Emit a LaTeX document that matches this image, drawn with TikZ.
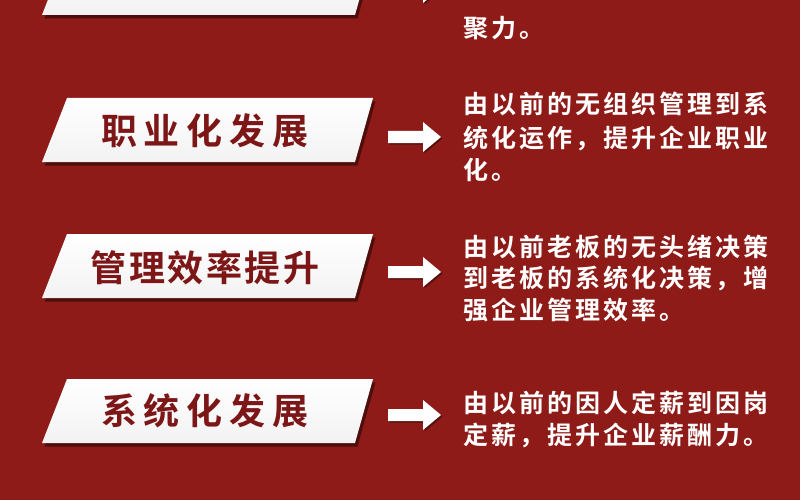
\documentclass[tikz,border=0pt]{standalone}
\usepackage{fontspec}
\newfontfamily\cjk{Noto Sans CJK SC Bold}
\usetikzlibrary{shadows}
\makeatletter
\newcommand\spreadtext[2]{\@tfor\cc:=#2\do{\makebox[#1][c]{\cc}}}
\makeatother
\definecolor{bg}{RGB}{142,27,23}
\definecolor{bannertext}{RGB}{125,22,22}
\begin{document}
\begin{tikzpicture}[x=1pt,y=-1pt]
\tikzset{
 banner/.style={top color=white, bottom color=black!5, draw=none,
   drop shadow={shadow xshift=2.5pt,shadow yshift=-3.5pt,opacity=.45,fill=black}},
 bannerlabel/.style={inner sep=0pt, text=bannertext, font=\fontsize{36}{36}\selectfont\cjk},
 desc/.style={anchor=west, inner sep=0pt, text=white, font=\fontsize{25}{25}\selectfont\cjk},
 blockarrow/.style={fill=white, draw=none,
   drop shadow={shadow xshift=1.5pt,shadow yshift=-1.5pt,opacity=.4,fill=black}},
}
\useasboundingbox (0,0) rectangle (800,500);
\fill[bg] (0,0) rectangle (800,500);
\begin{scope}
\clip (0,0) rectangle (800,500);
% banners
\path[banner] (67,-49) -- (373,-49) -- (355,15) -- (42,15) -- cycle;
\path[banner] (67,98) -- (373,98) -- (355,162) -- (42,162) -- cycle;
\path[banner] (67,234) -- (373,234) -- (355,298) -- (42,298) -- cycle;
\path[banner] (67,379) -- (373,379) -- (355,443) -- (42,443) -- cycle;
% arrows
\foreach \yc in {-12,137,272,415}{
 \path[blockarrow] (388,\yc-6) -- (423,\yc-6) -- (423,\yc-15) -- (441,\yc) -- (423,\yc+15) -- (423,\yc+6) -- (388,\yc+6) -- cycle;
}
\end{scope}
% banner labels
\node[bannerlabel] (l2) at (205,131) {\spreadtext{43pt}{职业化发展}};
\node[bannerlabel] (l3) at (205,268) {\spreadtext{38.6pt}{管理效率提升}};
\node[bannerlabel] (l4) at (205,411) {\spreadtext{43pt}{系统化发展}};
% descriptions
\node[desc] (d1c) at (462,28) {\spreadtext{28pt}{聚力。}};
\node[desc] (d2a) at (462,104) {\spreadtext{28pt}{由以前的无组织管理到系}};
\node[desc] (d2b) at (462,138) {\spreadtext{28pt}{统化运作，提升企业职业}};
\node[desc] (d2c) at (462,170) {\spreadtext{28pt}{化。}};
\node[desc] (d3a) at (462,247) {\spreadtext{28pt}{由以前老板的无头绪决策}};
\node[desc] (d3b) at (462,278) {\spreadtext{28pt}{到老板的系统化决策，增}};
\node[desc] (d3c) at (462,310) {\spreadtext{28pt}{强企业管理效率。}};
\node[desc] (d4a) at (462,403) {\spreadtext{28pt}{由以前的因人定薪到因岗}};
\node[desc] (d4b) at (462,435) {\spreadtext{28pt}{定薪，提升企业薪酬力。}};
\end{tikzpicture}
\end{document}
